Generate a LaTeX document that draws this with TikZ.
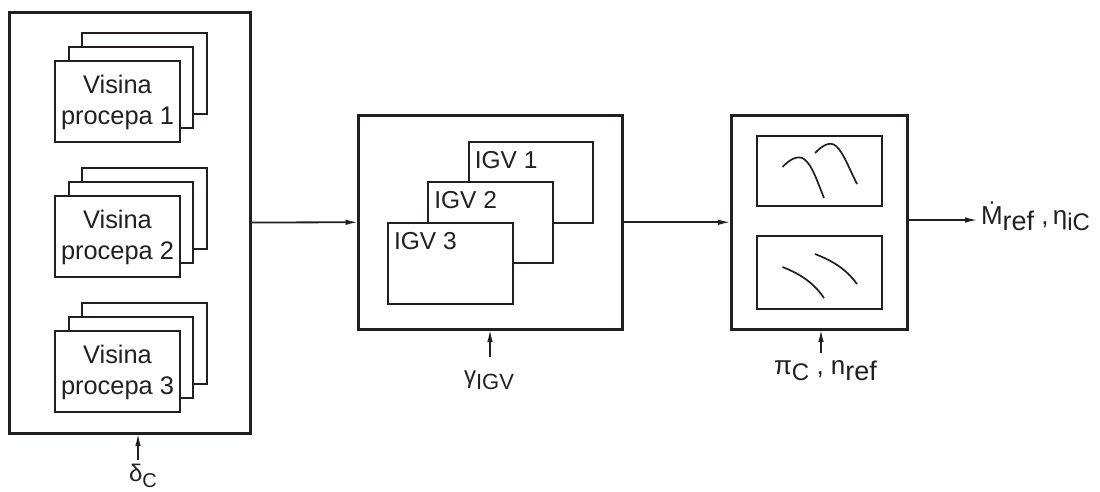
\documentclass[tikz,border=0pt]{standalone}
\usepackage{fontspec}
\setmainfont{Liberation Sans}
\usetikzlibrary{arrows.meta}
\definecolor{ink}{HTML}{231F20}
\newcommand{\lowtext}[2][22]{\raisebox{-0.26em}{\fontsize{#1}{#1}\selectfont #2}}
\tikzset{
  every node/.style={font=\fontsize{25.4}{31}\selectfont,text=ink,inner sep=0pt,outer sep=0pt},
  bigbox/.style={draw=ink,line width=3pt,rectangle},
  smallbox/.style={draw=ink,line width=2pt,rectangle,fill=white,minimum width=124.5pt,minimum height=81pt},
  curve/.style={draw=ink,line width=1.7pt},
  flow/.style={draw=ink,line width=1.8pt,-{Latex[length=13pt,width=5.5pt]}}
}

\begin{document}
\begin{tikzpicture}[x=1pt,y=-1pt]
  \useasboundingbox (0,0) rectangle (1100,491);

  % ================= left block =================
  \node[bigbox,minimum width=241pt,minimum height=421pt] (visina) at (129.5,222.5) {};
  \foreach \n/\y in {1/33,2/168,3/303} {
    \node[smallbox] (back\n) at (144.5,\y+40.5) {};
    \node[smallbox] (mid\n) at (131,\y+54.5) {};
    \node[smallbox] (front\n) at (117.5,\y+68) {};
    \node[align=center,yshift=-1.5pt] (fronttext\n) at (front\n.center) {Visina\\procepa \n};
  }

  % ================= middle block =================
  \node[bigbox,minimum width=264pt,minimum height=213.5pt] (igv) at (490.5,222.25) {};
  \foreach \n/\x/\y in {1/531/182,2/490.5/222.5,3/450.25/263} {
    \node[smallbox] (igv\n) at (\x,\y) {};
    \node[anchor=base west,font=\fontsize{24.5}{31}\selectfont] (igvtext\n) at ([xshift=6pt,yshift=-26.5pt]igv\n.north west) {IGV \n};
  }

  % ================= right block =================
  \node[bigbox,minimum width=176pt,minimum height=213.5pt] (maps) at (819,222.25) {};
  \node[smallbox,minimum height=70.5pt,minimum width=125pt] (mapup) at (819.5,171) {};
  \node[smallbox,minimum height=73pt,minimum width=125pt] (maplow) at (819.5,272.5) {};

  % curves in the two maps
  \draw[curve] (782.5,167) .. controls (790,159) and (798,155) .. (804,159) .. controls (812,165) and (816,178) .. (824,198);
  \draw[curve] (815,153) .. controls (823,145) and (830,141) .. (836,146) .. controls (843,152) and (848,166) .. (857,184);
  \draw[curve] (782.5,267) .. controls (800,274) and (813,282) .. (824,298);
  \draw[curve] (815,254) .. controls (833,261) and (846,269) .. (857,284);

  % ================= labels =================
  \node[anchor=base west,font=\fontsize{26}{31}\selectfont] (mflow) at (981,224) {\.M\lowtext[27]{ref} ,\,η\lowtext[24]{iC}};
  \node[anchor=base,font=\fontsize{24}{31}\selectfont] (delta) at (143,481) {δ\lowtext[20]{C}};
  \node[anchor=base,font=\fontsize{24}{31}\selectfont] (gamma) at (489,383) {γ\lowtext{IGV}};
  \node[anchor=base,font=\fontsize{26}{31}\selectfont] (pi) at (825.5,374) {π\lowtext[24]{C} , n\lowtext[27]{ref}};

  % ================= connectors =================
  \draw[flow] (visina.east) -- (igv.west);
  \draw[flow] (igv.east) -- (maps.west);
  \draw[flow] (maps.east |- 0,220) -- (978,220);
  \coordinate (deltaend) at (138,460);
  \coordinate (gammaend) at (490,357);
  \coordinate (piend) at (821,353);
  \draw[flow] (deltaend) -- (deltaend |- visina.south);
  \draw[flow] (gammaend) -- (gammaend |- igv.south);
  \draw[flow] (piend) -- (piend |- maps.south);
\end{tikzpicture}
\end{document}
